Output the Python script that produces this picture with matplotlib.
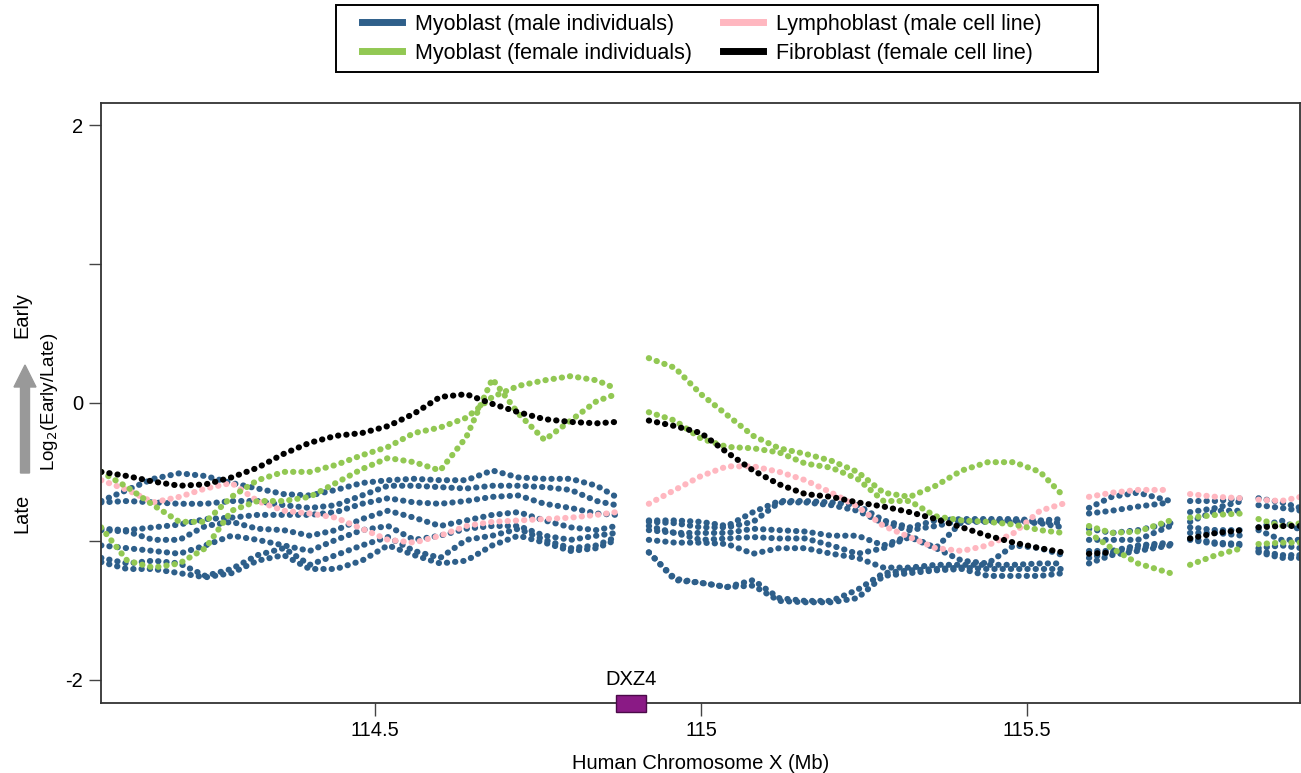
import numpy as np
import matplotlib
matplotlib.use("Agg")
import matplotlib.pyplot as plt
from matplotlib.patches import Rectangle, FancyArrow
from matplotlib.lines import Line2D
import matplotlib.transforms as mtransforms

plt.rcParams['font.family'] = ['Liberation Sans', 'DejaVu Sans']

# ---------------- data (Mb positions, log2(Early/Late)) ----------------
# genomic positions, split into the contiguous segments shown in the plot
x_segments = [
    [114.08, 114.12, 114.16, 114.20, 114.24, 114.28, 114.32, 114.36, 114.40, 114.44,
     114.48, 114.52, 114.56, 114.60, 114.64, 114.68, 114.72, 114.76, 114.80, 114.84, 114.87],
    [114.92, 114.96, 115.00, 115.04, 115.08, 115.12, 115.16, 115.20, 115.24, 115.28,
     115.32, 115.36, 115.40, 115.44, 115.48, 115.52, 115.555],
    [115.595, 115.63, 115.67, 115.72],
    [115.75, 115.79, 115.83],
    [115.855, 115.89, 115.92],
]

fibroblast_female = [
    [-0.50, -0.53, -0.57, -0.60, -0.59, -0.54, -0.47, -0.37, -0.29, -0.24,
     -0.22, -0.17, -0.08, 0.04, 0.06, -0.01, -0.07, -0.12, -0.14, -0.15, -0.14],
    [-0.13, -0.17, -0.22, -0.36, -0.49, -0.59, -0.66, -0.68, -0.72, -0.75,
     -0.79, -0.84, -0.90, -0.96, -1.01, -1.05, -1.08],
    [-1.09, -1.08, None, None],
    [-0.98, -0.94, -0.92],
    [-0.90, -0.89, -0.89],
]

lymphoblast_male = [
    [-0.56, -0.63, -0.72, -0.68, -0.62, -0.58, -0.71, -0.78, -0.80, -0.83,
     -0.91, -0.99, -1.01, -0.96, -0.89, -0.86, -0.85, -0.84, -0.83, -0.81, -0.79],
    [-0.73, -0.63, -0.53, -0.46, -0.46, -0.50, -0.56, -0.65, -0.75, -0.89,
     -0.97, -1.05, -1.07, -1.03, -0.94, -0.78, -0.73],
    [-0.68, -0.65, -0.63, -0.63],
    [-0.66, -0.68, -0.69],
    [-0.70, -0.71, -0.68],
]

myoblast_female_1 = [
    [-0.50, -0.61, -0.74, -0.86, -0.86, -0.68, -0.56, -0.50, -0.50, -0.45,
     -0.38, -0.32, -0.22, -0.18, -0.11, 0.04, 0.12, 0.16, 0.19, 0.16, 0.10],
    [0.32, 0.25, 0.06, -0.09, -0.24, -0.33, -0.37, -0.42, -0.50, -0.65,
     -0.68, -0.60, -0.49, -0.43, -0.43, -0.50, -0.67],
    [-0.89, -0.94, -0.93, -0.85],
    [-0.83, -0.81, -0.80],
    [-0.84, -0.89, -0.87],
]
myoblast_female_2 = [
    [-0.90, -1.14, -1.19, -1.16, -1.05, -0.78, -0.71, -0.71, -0.68, -0.58,
     -0.48, -0.40, -0.43, -0.49, -0.25, 0.17, -0.08, -0.27, -0.13, 0.01, 0.06],
    [-0.07, -0.13, -0.26, -0.32, -0.33, -0.36, -0.44, -0.47, -0.55, -0.71,
     -0.71, -0.82, -0.85, -0.86, -0.88, -0.92, -0.94],
    [-0.94, -1.05, -1.16, -1.23],
    [-1.17, -1.10, -1.05],
    [-1.02, -1.01, -1.01],
]

myoblast_male_1 = [
    [-0.71, -0.63, -0.55, -0.51, -0.53, -0.58, -0.62, -0.66, -0.67, -0.63,
     -0.58, -0.56, -0.55, -0.56, -0.56, -0.49, -0.54, -0.55, -0.55, -0.60, -0.68],
    [-0.85, -0.85, -0.86, -0.89, -0.79, -0.71, -0.71, -0.72, -0.74, -0.85,
     -0.90, -0.85, -0.84, -0.84, -0.84, -0.85, -0.84],
    [-0.76, -0.68, -0.65, -0.71],
    [-0.71, -0.71, -0.69],
    [-0.69, -0.72, -0.76],
]
myoblast_male_2 = [
    [-0.72, -0.71, -0.72, -0.73, -0.73, -0.71, -0.71, -0.74, -0.76, -0.74,
     -0.67, -0.60, -0.60, -0.61, -0.62, -0.60, -0.60, -0.61, -0.63, -0.71, -0.74],
    [-0.86, -0.87, -0.90, -0.90, -0.86, -0.72, -0.72, -0.74, -0.78, -0.87,
     -0.92, -0.89, -0.85, -0.85, -0.85, -0.86, -0.87],
    [-0.80, -0.78, -0.75, -0.72],
    [-0.79, -0.76, -0.71],
    [-0.74, -0.76, -0.78],
]
myoblast_male_3 = [
    [-0.91, -0.92, -0.90, -0.88, -0.84, -0.83, -0.81, -0.81, -0.81, -0.79,
     -0.73, -0.69, -0.72, -0.73, -0.71, -0.68, -0.67, -0.73, -0.76, -0.80, -0.81],
    [-0.89, -0.94, -0.94, -0.94, -0.91, -0.92, -0.93, -0.96, -0.96, -1.03,
     -0.96, -1.05, -0.86, -0.86, -0.86, -0.87, -0.90],
    [-0.91, -0.94, -0.92, -0.87],
    [-0.86, -0.78, -0.78],
    [-0.90, -0.85, -0.92],
]
myoblast_male_4 = [
    [-0.92, -0.93, -0.99, -0.99, -0.89, -0.86, -0.91, -0.92, -0.96, -0.92,
     -0.84, -0.78, -0.83, -0.89, -0.85, -0.81, -0.79, -0.85, -0.90, -0.92, -0.89],
    [-0.92, -0.94, -0.99, -0.98, -0.97, -0.98, -0.98, -1.03, -1.09, -1.05,
     -0.97, -1.05, -1.14, -1.16, -1.03, -1.05, -1.10],
    [-0.99, -0.99, -0.99, -0.89],
    [-0.90, -0.92, -0.92],
    [-0.92, -0.99, -0.99],
]
myoblast_male_5 = [
    [-1.03, -1.05, -1.07, -1.09, -1.03, -0.96, -0.99, -1.03, -1.07, -0.99,
     -0.92, -0.89, -0.99, -0.96, -0.91, -0.89, -0.89, -0.96, -0.99, -0.96, -0.94],
    [-0.99, -1.01, -1.01, -1.02, -1.09, -1.05, -1.05, -1.09, -1.12, -1.19,
     -1.19, -1.17, -1.17, -1.17, -1.17, -1.16, -1.16],
    [-1.07, -1.07, -1.03, -1.01],
    [-0.94, -0.94, -0.96],
    [-1.05, -1.03, -1.05],
]
myoblast_male_6 = [
    [-1.12, -1.16, -1.14, -1.16, -1.25, -1.20, -1.10, -1.05, -1.17, -1.10,
     -1.03, -0.97, -1.07, -1.12, -0.99, -0.96, -0.91, -0.99, -1.05, -1.03, -0.97],
    [-1.08, -1.27, -1.30, -1.33, -1.28, -1.41, -1.43, -1.43, -1.35, -1.23,
     -1.21, -1.20, -1.19, -1.20, -1.20, -1.20, -1.20],
    [-1.12, -1.08, -1.05, -1.02],
    [-0.98, -1.01, -1.02],
    [-1.07, -1.10, -1.10],
]
myoblast_male_7 = [
    [-1.15, -1.20, -1.20, -1.23, -1.26, -1.23, -1.14, -1.10, -1.20, -1.20,
     -1.14, -1.03, -1.10, -1.16, -1.14, -1.03, -0.96, -1.01, -1.07, -1.05, -0.99],
    [-1.08, -1.28, -1.30, -1.33, -1.32, -1.43, -1.44, -1.44, -1.41, -1.25,
     -1.23, -1.21, -1.20, -1.25, -1.25, -1.25, -1.23],
    [-1.16, -1.10, -1.07, -1.03],
    [-0.99, -1.02, -1.03],
    [-1.08, -1.12, -1.12],
]

legend_labels = ["Myoblast (male individuals)", "Myoblast (female individuals)",
                 "Lymphoblast (male cell line)", "Fibroblast (female cell line)"]
x_ticks = [114.5, 115, 115.5]
x_tick_labels = ["114.5", "115", "115.5"]
y_ticks = [-2, -1, 0, 1, 2]
y_tick_labels = ["-2", "", "0", "", "2"]
dxz4_start, dxz4_end = 114.869, 114.915

# ---------------- styling ----------------
C_BLUE = "#2E5F8A"
C_GREEN = "#92C853"
C_PINK = "#FFB7C0"
C_BLACK = "#000000"


def joined(segs):
    out = []
    for i, s in enumerate(segs):
        if i:
            out.append(None)
        out.extend(s)
    return np.array(out, dtype=float)


X = joined(x_segments)

fig = plt.figure(figsize=(13.01, 7.73), dpi=100)
ax = fig.add_axes([101 / 1301, 70 / 773, 1199 / 1301, 600 / 773])

dot_style = dict(linestyle=(0, (0.05, 1.3)), dash_capstyle="round", linewidth=4.4)

for s in [myoblast_male_1, myoblast_male_2, myoblast_male_3, myoblast_male_4,
          myoblast_male_5, myoblast_male_6, myoblast_male_7]:
    ax.plot(X, joined(s), color=C_BLUE, **dot_style)
ax.plot(X, joined(lymphoblast_male), color=C_PINK, **dot_style)
for s in [myoblast_female_1, myoblast_female_2]:
    ax.plot(X, joined(s), color=C_GREEN, **dot_style)
ax.plot(X, joined(fibroblast_female), color=C_BLACK, **dot_style)

ax.set_xlim(114.0798, 115.9187)
ax.set_ylim(-2.166, 2.159)
ax.set_xticks(x_ticks)
ax.set_xticklabels(x_tick_labels)
ax.set_yticks(y_ticks)
ax.set_yticklabels(y_tick_labels)
ax.tick_params(axis="both", direction="out", length=9, width=1.0, color="#444444",
               labelsize=14.5, pad=4)
for sp in ax.spines.values():
    sp.set_linewidth(1.3)
    sp.set_color("#333333")

ax.set_xlabel("Human Chromosome X (Mb)", fontsize=14.5, labelpad=10)

# DXZ4 marker straddling the bottom spine
trans = mtransforms.blended_transform_factory(ax.transData, ax.transAxes)
ax.add_patch(Rectangle((dxz4_start, -0.015), dxz4_end - dxz4_start, 0.029,
                       transform=trans, facecolor="#8A1A85", edgecolor="#4A0A48",
                       linewidth=1.0, clip_on=False, zorder=5))
ax.text((dxz4_start + dxz4_end) / 2, 0.024, "DXZ4", transform=trans,
        ha="center", va="bottom", fontsize=14.5)

# y-axis labels
fig.text(50 / 1301, 1 - 402 / 773, r"Log$_2$(Early/Late)", rotation=90,
         ha="center", va="center", fontsize=13.5)
fig.text(22 / 1301, 1 - 315 / 773, "Early", rotation=90, ha="center", va="center",
         fontsize=14.5)
fig.text(22 / 1301, 1 - 513 / 773, "Late", rotation=90, ha="center", va="center",
         fontsize=14.5)
fig.patches.append(FancyArrow(25 / 1301, 1 - 473 / 773, 0, 108 / 773, width=9 / 1301,
                              head_width=22 / 1301, head_length=22 / 773,
                              length_includes_head=True, transform=fig.transFigure,
                              color="#999999", figure=fig))

# legend: entries plus a separate rectangular frame
handles = [Line2D([], [], color=c, linewidth=5) for c in [C_BLUE, C_GREEN, C_PINK, C_BLACK]]
leg = fig.legend(handles, legend_labels, ncol=2, loc="upper left",
                 bbox_to_anchor=(362 / 1301, 1 - 14 / 773), frameon=False,
                 fontsize=15.5, handlelength=1.86, handletextpad=0.6, columnspacing=1.45,
                 borderpad=0, labelspacing=0.35, borderaxespad=0)
fig.patches.append(Rectangle((336 / 1301, 1 - 72 / 773), (1098 - 336) / 1301, 67 / 773,
                             transform=fig.transFigure, fill=False, edgecolor="black",
                             linewidth=1.4, figure=fig))

fig.savefig("out.png", dpi=100)
